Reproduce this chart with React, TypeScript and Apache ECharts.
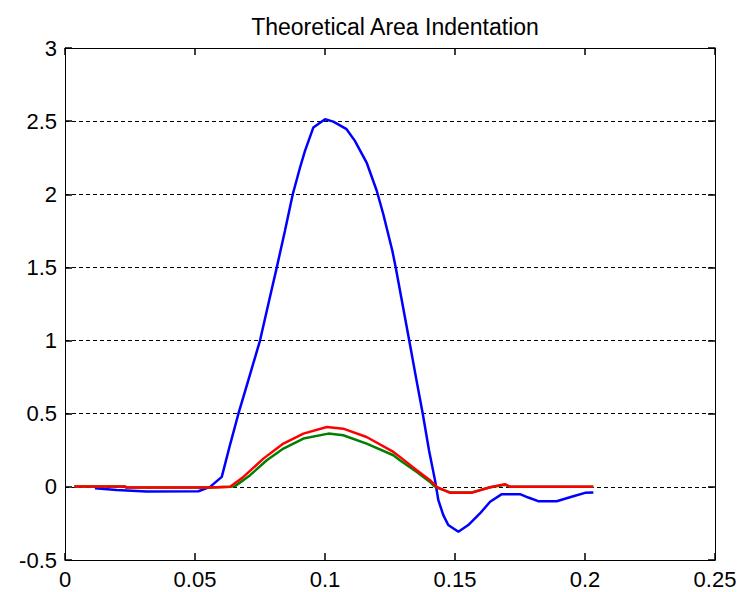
import React, { useEffect, useRef } from "react";
import * as echarts from "echarts";

const titleText = "Theoretical Area Indentation";
const xTicks = { min: 0, max: 0.25, interval: 0.05 };
const yTicks = { min: -0.5, max: 3, interval: 0.5 };

const blueData: number[][] = [
  [0.0115, -0.01], [0.0199, -0.022], [0.0314, -0.031], [0.0513, -0.03], [0.0558, 0],
  [0.0603, 0.068], [0.0636, 0.296], [0.0667, 0.5], [0.0705, 0.728], [0.075, 1.0],
  [0.0794, 1.342], [0.0812, 1.48], [0.0846, 1.751], [0.0876, 2.0], [0.0904, 2.183],
  [0.0923, 2.297], [0.0955, 2.456], [0.1, 2.513], [0.1032, 2.497], [0.1083, 2.445],
  [0.1115, 2.365], [0.116, 2.217], [0.1199, 2.024], [0.1224, 1.865], [0.1259, 1.614],
  [0.1272, 1.5], [0.1324, 1.0], [0.1352, 0.728], [0.1376, 0.5],
  [0.14, 0.25], [0.1423, 0.046], [0.1436, -0.091], [0.1455, -0.193], [0.1474, -0.261],
  [0.1513, -0.307], [0.1551, -0.261], [0.1596, -0.182], [0.1635, -0.102], [0.168, -0.05],
  [0.175, -0.05], [0.1782, -0.073], [0.182, -0.098], [0.1891, -0.098], [0.1955, -0.064],
  [0.2, -0.041], [0.2032, -0.038],
];

const greenData: number[][] = [
  [0.0036, 0.003], [0.0231, 0.003], [0.0235, -0.005], [0.0558, -0.005], [0.0635, 0],
  [0.0654, 0.005], [0.0712, 0.08], [0.0776, 0.182], [0.084, 0.262], [0.0917, 0.33],
  [0.1013, 0.364], [0.107, 0.353], [0.116, 0.296], [0.1263, 0.216], [0.1288, 0.182],
  [0.1353, 0.102], [0.1404, 0.034], [0.1417, 0.01], [0.143, -0.005], [0.1481, -0.038],
  [0.1564, -0.038], [0.1635, -0.003], [0.1692, 0.015], [0.1712, 0], [0.2032, 0],
];

const redData: number[][] = [
  [0.0036, 0.003], [0.0231, 0.003], [0.0235, -0.005], [0.0558, -0.005], [0.0635, 0],
  [0.0686, 0.068], [0.0763, 0.193], [0.084, 0.296], [0.0917, 0.364], [0.1007, 0.409],
  [0.107, 0.398], [0.116, 0.341], [0.1263, 0.239], [0.1288, 0.205], [0.1353, 0.114],
  [0.1404, 0.046], [0.143, 0], [0.1481, -0.041], [0.1564, -0.041], [0.1635, -0.003],
  [0.1692, 0.018], [0.1712, 0], [0.2032, 0],
];

const FONT = "'Liberation Sans', Arial, sans-serif";

export default function App() {
  const ref = useRef<HTMLDivElement>(null);
  useEffect(() => {
    if (!ref.current) return;
    const chart = echarts.init(ref.current, undefined, { renderer: "svg" });
    const axisLine = { show: true, onZero: false, lineStyle: { color: "#000", width: 1 } };
    const tick = { show: true, inside: true, length: 7, lineStyle: { color: "#000", width: 1.5 } };
    const label = { fontSize: 22, color: "#000", fontFamily: FONT };
    chart.setOption({
      animation: false,
      backgroundColor: "#fff",
      title: {
        text: titleText,
        left: "390",
        textAlign: "center",
        top: 10,
        textStyle: { fontSize: 23, fontWeight: "normal", color: "#000", fontFamily: FONT, lineHeight: 23 },
      },
      grid: { left: 65, right: 31, top: 48, bottom: 32, containLabel: false },
      xAxis: [
        {
          type: "value", position: "bottom", ...xTicks,
          axisLine: { ...axisLine }, axisTick: { ...tick }, splitLine: { show: false },
          axisLabel: { ...label, margin: 8 },
        },
        {
          type: "value", position: "top", ...xTicks,
          axisLine: { ...axisLine }, axisTick: { ...tick }, splitLine: { show: false },
          axisLabel: { show: false },
        },
      ],
      yAxis: [
        {
          type: "value", position: "left", ...yTicks,
          axisLine: { ...axisLine }, axisTick: { ...tick },
          splitLine: { show: true, lineStyle: { color: "#000", width: 1, type: [4, 3] } },
          axisLabel: { ...label, margin: 8 },
        },
        {
          type: "value", position: "right", ...yTicks,
          axisLine: { ...axisLine }, axisTick: { ...tick }, splitLine: { show: false },
          axisLabel: { show: false },
        },
      ],
      series: [
        { type: "line", data: blueData, showSymbol: false, lineStyle: { color: "#0000ff", width: 2.5 }, itemStyle: { color: "#0000ff" } },
        { type: "line", data: greenData, showSymbol: false, lineStyle: { color: "#008000", width: 2.5 }, itemStyle: { color: "#008000" } },
        { type: "line", data: redData, showSymbol: false, lineStyle: { color: "#ff0000", width: 2.5 }, itemStyle: { color: "#ff0000" } },
      ],
    });
    return () => chart.dispose();
  }, []);
  return (
    <div
      ref={ref}
      style={{ position: "absolute", left: 0, top: 0, width: 746, height: 592, background: "#fff" }}
    />
  );
}
